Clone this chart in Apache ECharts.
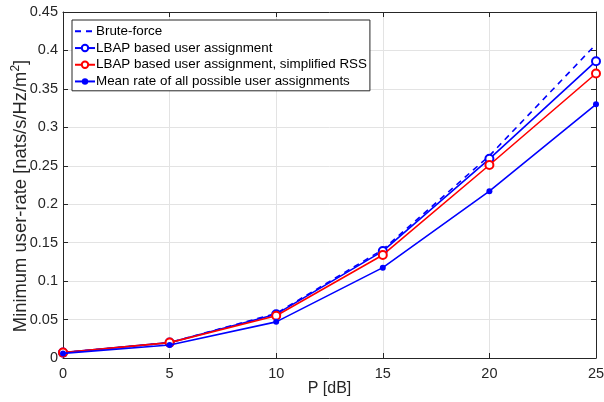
<!DOCTYPE html>
<html><head><meta charset="utf-8">
<script src="https://cdn.jsdelivr.net/npm/echarts@6/dist/echarts.min.js"></script>
<style>html,body{margin:0;padding:0;background:#fff}#c{width:604px;height:402px}</style>
</head><body><div id="c"></div>
<script>
var pDb = [0, 5, 10, 15, 20, 25];
var bruteForce = [0.007, 0.020, 0.058, 0.141, 0.263, 0.408];
var lbap = [0.007, 0.020, 0.057, 0.139, 0.259, 0.386];
var lbapSimplified = [0.007, 0.020, 0.055, 0.134, 0.251, 0.370];
var meanRate = [0.006, 0.017, 0.047, 0.1175, 0.217, 0.330];
var seriesNames = ['Brute-force', 'LBAP based user assignment', 'LBAP based user assignment, simplified RSS', 'Mean rate of all possible user assignments'];

function pairs(ys){ return pDb.map(function(x,i){ return [x, ys[i]]; }); }
var font = 'Liberation Sans, Arial, Helvetica, sans-serif';
var axisCol = '#262626';
var chart = echarts.init(document.getElementById('c'));
var baseX = {type:'value', min:0, max:25, interval:5,
  axisLine:{show:true, onZero:false, lineStyle:{color:axisCol, width:1}},
  axisTick:{show:true, inside:true, length:5, lineStyle:{color:axisCol}},
  splitLine:{show:true, lineStyle:{color:'#e3e3e3', width:1}}};
var baseY = {type:'value', min:0, max:0.45, interval:0.05,
  axisLine:{show:true, onZero:false, lineStyle:{color:axisCol, width:1}},
  axisTick:{show:true, inside:true, length:5, lineStyle:{color:axisCol}},
  splitLine:{show:true, lineStyle:{color:'#e3e3e3', width:1}}};
chart.setOption({
  animation:false,
  textStyle:{fontFamily:font},
  grid:{left:63, top:12, width:533, height:346, containLabel:false, outerBoundsMode:'none'},
  legend:{
    orient:'vertical', left:72, top:20, itemWidth:20, itemHeight:8, itemGap:0,
    padding:[3,3,1,2], backgroundColor:'#fff', borderColor:'#262626', borderWidth:1, borderRadius:0,
    textStyle:{fontFamily:font, fontSize:13.4, color:'#000', lineHeight:16.7, padding:[0,0,0,-4]},
    data:[{name:seriesNames[0], itemStyle:{opacity:0}}, seriesNames[1], seriesNames[2], seriesNames[3]]
  },
  xAxis:[
    Object.assign({}, baseX, {position:'bottom', name:'P [dB]', nameLocation:'middle', nameGap:23, nameMoveOverlap:false,
      nameTextStyle:{fontSize:16, color:axisCol, fontFamily:font},
      axisLabel:{fontSize:14.5, color:axisCol, margin:8, fontFamily:font}}),
    Object.assign({}, baseX, {position:'top', splitLine:{show:false}, axisLabel:{show:false}})
  ],
  yAxis:[
    Object.assign({}, baseY, {position:'left', name:'Minimum user-rate [nats/s/Hz/m{sup|2}]', nameLocation:'middle', nameGap:32, nameMoveOverlap:false,
      nameTextStyle:{fontSize:18.4, color:axisCol, fontFamily:font, padding:[0,22,0,0],
        rich:{sup:{fontSize:12, color:axisCol, fontFamily:font, verticalAlign:'top', padding:[0,0,9,0]}}},
      axisLabel:{fontSize:14.5, color:axisCol, margin:5, fontFamily:font, formatter:function(v){return String(+v.toFixed(2));}}}),
    Object.assign({}, baseY, {position:'right', splitLine:{show:false}, axisLabel:{show:false}})
  ],
  series:[
    {name:seriesNames[0], type:'line', data:pairs(bruteForce), showSymbol:false, symbol:'none',
      lineStyle:{color:'#0000ff', width:1.6, type:[6,5]}, itemStyle:{color:'#0000ff'}, z:3},
    {name:seriesNames[1], type:'line', data:pairs(lbap), symbol:'emptyCircle', symbolSize:8,
      lineStyle:{color:'#0000ff', width:1.6}, itemStyle:{color:'#0000ff', borderWidth:1.6}, z:4},
    {name:seriesNames[2], type:'line', data:pairs(lbapSimplified), symbol:'emptyCircle', symbolSize:8,
      lineStyle:{color:'#ff0000', width:1.6}, itemStyle:{color:'#ff0000', borderWidth:1.6}, z:5},
    {name:seriesNames[3], type:'line', data:pairs(meanRate), symbol:'circle', symbolSize:6,
      lineStyle:{color:'#0000ff', width:1.6}, itemStyle:{color:'#0000ff'}, z:6}
  ]
});
</script></body></html>
